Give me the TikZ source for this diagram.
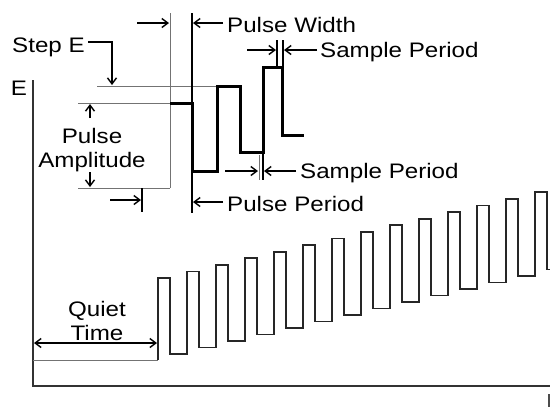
\documentclass[tikz,border=0pt]{standalone}
\usepackage{fontspec}
\setmainfont{Liberation Sans}
\newfontfamily\lblfont[FakeStretch=1.15]{Liberation Sans}
\usetikzlibrary{arrows.meta}
\begin{document}
\begin{tikzpicture}[x=1pt,y=-1pt,
  lbl/.style={font=\lblfont\fontsize{21}{23}\selectfont,inner sep=0pt},
  axisline/.style={line width=1.8pt,black!80},
  thinref/.style={line width=1pt,black!55},
  tickline/.style={line width=1.3pt,black},
  wavetop/.style={line width=3pt,black,line join=miter},
  wavebot/.style={line width=1.8pt,black!85,line join=miter},
  dimarrow/.style={line width=1.4pt,black,-{Straight Barb[length=6pt,width=9pt]}},
  dimboth/.style={line width=1.4pt,black,{Straight Barb[length=6pt,width=9pt]}-{Straight Barb[length=6pt,width=9pt]}}]
\useasboundingbox (0,0) rectangle (550,407);
\fill[white] (0,0) rectangle (550,407);

% axes
\coordinate (ytop) at (33,80);
\coordinate (org) at (33,386);
\coordinate (xend) at (550,386);
\draw[axisline] (ytop) -- (org) -- (xend);
\node[lbl,anchor=base] (elabel) at (19,95) {E};
\coordinate (tfa) at (549,394);
\coordinate (tfb) at (549,407);
\draw[line width=1.2pt,black!70] (tfa) -- (tfb);

% ---------- upper detail ----------
% reference lines
\coordinate (stepL) at (97,86);
\coordinate (stepR) at (217,86);
\draw[thinref] (stepL) -- (stepR);
\coordinate (startL) at (78,103);
\coordinate (startR) at (170,103);
\draw[thinref] (startL) -- (startR);
\coordinate (ampL) at (78,188);
\coordinate (ampR) at (170,188);
\draw[thinref] (ampL) -- (ampR);
\coordinate (vgA) at (170,13);
\coordinate (vgB) at (170,188);
\draw[thinref] (vgA) -- (vgB);
\coordinate (vkA) at (192,13);
\coordinate (vkB) at (192,213);
\draw[line width=2pt,black] (vkA) -- (vkB);
\coordinate (vpA) at (142,188);
\coordinate (vpB) at (142,212);
\draw[tickline] (vpA) -- (vpB);

% thick detail waveform
\draw[wavetop] (170,103) -- (192,103) -- (192,171) -- (217,171) -- (217,86)
  -- (240,86) -- (240,152) -- (263,152) -- (263,67) -- (282,67) -- (282,135) -- (304,135);

% sample period ticks
\coordinate (s1a) at (277,40);
\coordinate (s1b) at (277,67);
\coordinate (s2a) at (283,40);
\coordinate (s2b) at (283,67);
\draw[tickline] (s1a) -- (s1b);
\draw[tickline] (s2a) -- (s2b);
\coordinate (s3a) at (259,155);
\coordinate (s3b) at (259,180);
\coordinate (s4a) at (263,152);
\coordinate (s4b) at (263,180);
\draw[thinref] (s3a) -- (s3b);
\draw[tickline] (s4a) -- (s4b);

% Step E
\node[lbl,anchor=base west] (stepE) at (12,52) {Step E};
\coordinate (stepa) at (88,42);
\coordinate (stepb) at (112,42);
\coordinate (stepc) at (112,85);
\draw[dimarrow] (stepa) -- (stepb) -- (stepc);

% Pulse width
\coordinate (pwa) at (137,23);
\coordinate (pwb) at (169,23);
\draw[dimarrow] (pwa) -- (pwb);
\coordinate (pwc) at (223,23);
\coordinate (pwd) at (193,23);
\draw[dimarrow] (pwc) -- (pwd);
\node[lbl,anchor=base west] (pwidth) at (227,32) {Pulse Width};

% Sample period upper
\coordinate (spa) at (247,50);
\coordinate (spb) at (276,50);
\draw[dimarrow] (spa) -- (spb);
\coordinate (spc) at (317,50);
\coordinate (spd) at (284,50);
\draw[dimarrow] (spc) -- (spd);
\node[lbl,anchor=base west] (sampU) at (320,57) {Sample Period};

% Sample period lower
\coordinate (sla) at (225,171);
\coordinate (slb) at (258,171);
\draw[dimarrow] (sla) -- (slb);
\coordinate (slc) at (296,171);
\coordinate (sld) at (264,171);
\draw[dimarrow] (slc) -- (sld);
\node[lbl,anchor=base west] (sampL) at (300,178) {Sample Period};

% Pulse period
\coordinate (ppa) at (110,200);
\coordinate (ppb) at (141,200);
\draw[dimarrow] (ppa) -- (ppb);
\coordinate (ppc) at (223,202);
\coordinate (ppd) at (193,202);
\draw[dimarrow] (ppc) -- (ppd);
\node[lbl,anchor=base west] (pperiod) at (227,211) {Pulse Period};

% Pulse amplitude
\node[lbl,anchor=base] (pamp1) at (92,143) {Pulse};
\node[lbl,anchor=base] (pamp2) at (92,167) {Amplitude};
\coordinate (paa) at (90,118);
\coordinate (pab) at (90,104);
\draw[dimarrow] (paa) -- (pab);
\coordinate (pac) at (90,172);
\coordinate (pad) at (90,187);
\draw[dimarrow] (pac) -- (pad);

% ---------- lower waveform ----------
\coordinate (qL) at (33,360);
\coordinate (qR) at (158,360);
\draw[thinref] (qL) -- (qR);
\coordinate (qaL) at (34,343);
\coordinate (qaR) at (157,343);
\draw[dimboth] (qaL) -- (qaR);
\node[lbl,anchor=base] (quiet) at (97,316) {Quiet};
\node[lbl,anchor=base] (qtime) at (97,340) {Time};

\draw[wavebot] (158,360)
  \foreach \i in {0,...,12} {
    -- ({158+29*\i},{278-6.6*\i}) -- ({170+29*\i},{278-6.6*\i})
    -- ({170+29*\i},{354-6.5*\i}) -- ({187+29*\i},{354-6.5*\i})
  }
  -- (535,192.2) -- (547,192.2) -- (547,269.5) -- (550,269.5);
\end{tikzpicture}
\end{document}
